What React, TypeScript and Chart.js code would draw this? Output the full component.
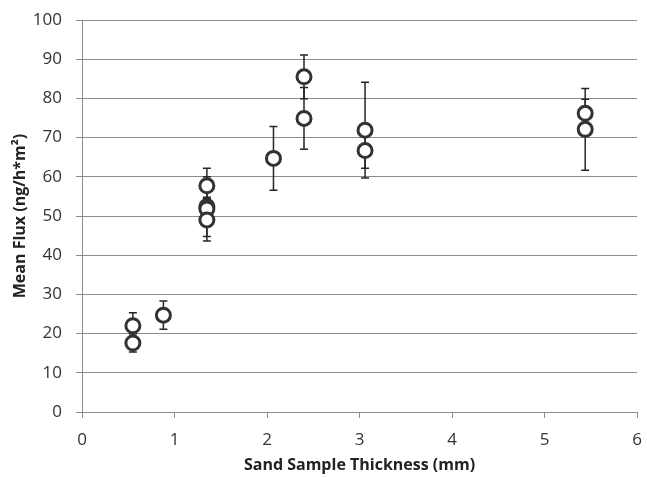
import React, { useEffect, useRef } from "react";
import { Chart, registerables } from "chart.js";

Chart.register(...registerables);

const thickness = [0.55, 0.55, 0.88, 1.35, 1.35, 1.35, 1.35, 2.07, 2.4, 2.4, 3.06, 3.06, 5.44, 5.44];
const meanFlux = [22.0, 17.6, 24.7, 57.7, 52.4, 51.8, 49.0, 64.7, 85.5, 74.9, 71.9, 66.7, 76.2, 72.1];
const fluxError = [3.3, 2.3, 3.6, 4.5, 7.6, 3.0, 5.4, 8.1, 5.6, 7.9, 12.2, 4.5, 3.6, 10.4];

const xTicks = [0, 1, 2, 3, 4, 5, 6];
const yTicks = [0, 10, 20, 30, 40, 50, 60, 70, 80, 90, 100];

const FONT = "'Open Sans', 'Lato', sans-serif";

const errorBarPlugin = {
  id: "errorBars",
  beforeDatasetsDraw(chart: any) {
    const { ctx, scales } = chart;
    const xs = scales.x;
    const ys = scales.y;
    ctx.save();
    ctx.strokeStyle = "#262626";
    ctx.lineWidth = 1.5;
    for (let i = 0; i < thickness.length; i++) {
      const px = xs.getPixelForValue(thickness[i]);
      const top = ys.getPixelForValue(meanFlux[i] + fluxError[i]);
      const bot = ys.getPixelForValue(meanFlux[i] - fluxError[i]);
      ctx.beginPath();
      ctx.moveTo(px, top);
      ctx.lineTo(px, bot);
      ctx.moveTo(px - 4, top);
      ctx.lineTo(px + 4, top);
      ctx.moveTo(px - 4, bot);
      ctx.lineTo(px + 4, bot);
      ctx.stroke();
    }
    ctx.restore();
  },
};

export default function App() {
  const ref = useRef<HTMLCanvasElement | null>(null);
  useEffect(() => {
    document.body.style.margin = "0";
    const canvas = ref.current;
    if (!canvas) return;
    const points = thickness.map((x, i) => ({ x, y: meanFlux[i] }));
    const chart = new Chart(canvas, {
      type: "scatter",
      data: {
        datasets: [
          {
            data: points,
            pointStyle: "circle",
            pointRadius: 7,
            pointHoverRadius: 7,
            pointBorderWidth: 3,
            borderColor: "#333333",
            backgroundColor: "#ffffff",
          },
        ],
      },
      options: {
        animation: false,
        responsive: false,
        devicePixelRatio: 1,
        layout: { padding: { top: 20, right: 7, left: 0, bottom: 0 } },
        plugins: { legend: { display: false }, tooltip: { enabled: false } },
        scales: {
          x: {
            type: "linear",
            min: 0,
            max: 6,
            afterBuildTicks: (axis: any) => {
              axis.ticks = xTicks.map((v) => ({ value: v }));
            },
            afterFit: (s: any) => {
              s.height = 65;
              s.paddingLeft = 0;
              s.paddingRight = 0;
            },
            grid: { drawOnChartArea: false, drawTicks: true, tickLength: 6, color: "#8c8c8c" },
            border: { color: "#8c8c8c", width: 1 },
            ticks: { color: "#333", font: { family: FONT, size: 17 }, padding: 12 },
            title: {
              display: true,
              text: "Sand Sample Thickness (mm)",
              color: "#222",
              font: { family: FONT, size: 16, weight: "bold" },
              padding: { top: 0, bottom: 2 },
            },
          },
          y: {
            type: "linear",
            min: 0,
            max: 100,
            afterBuildTicks: (axis: any) => {
              axis.ticks = yTicks.map((v) => ({ value: v }));
            },
            afterFit: (s: any) => {
              s.width = 82;
              s.paddingTop = 0;
              s.paddingBottom = 0;
            },
            grid: { drawOnChartArea: true, drawTicks: true, tickLength: 6, color: "#8c8c8c", lineWidth: 1 },
            border: { color: "#8c8c8c", width: 1 },
            ticks: { color: "#333", font: { family: FONT, size: 17 }, padding: 14 },
            title: {
              display: true,
              text: "Mean Flux (ng/h*m²)",
              color: "#222",
              font: { family: FONT, size: 16, weight: "bold" },
              padding: { top: 11, bottom: 0 },
            },
          },
        },
      },
      plugins: [errorBarPlugin],
    });
    return () => chart.destroy();
  }, []);
  return (
    <div style={{ width: 647, height: 477, background: "#fff" }}>
      <canvas ref={ref} width={647} height={477} style={{ display: "block" }} />
    </div>
  );
}
